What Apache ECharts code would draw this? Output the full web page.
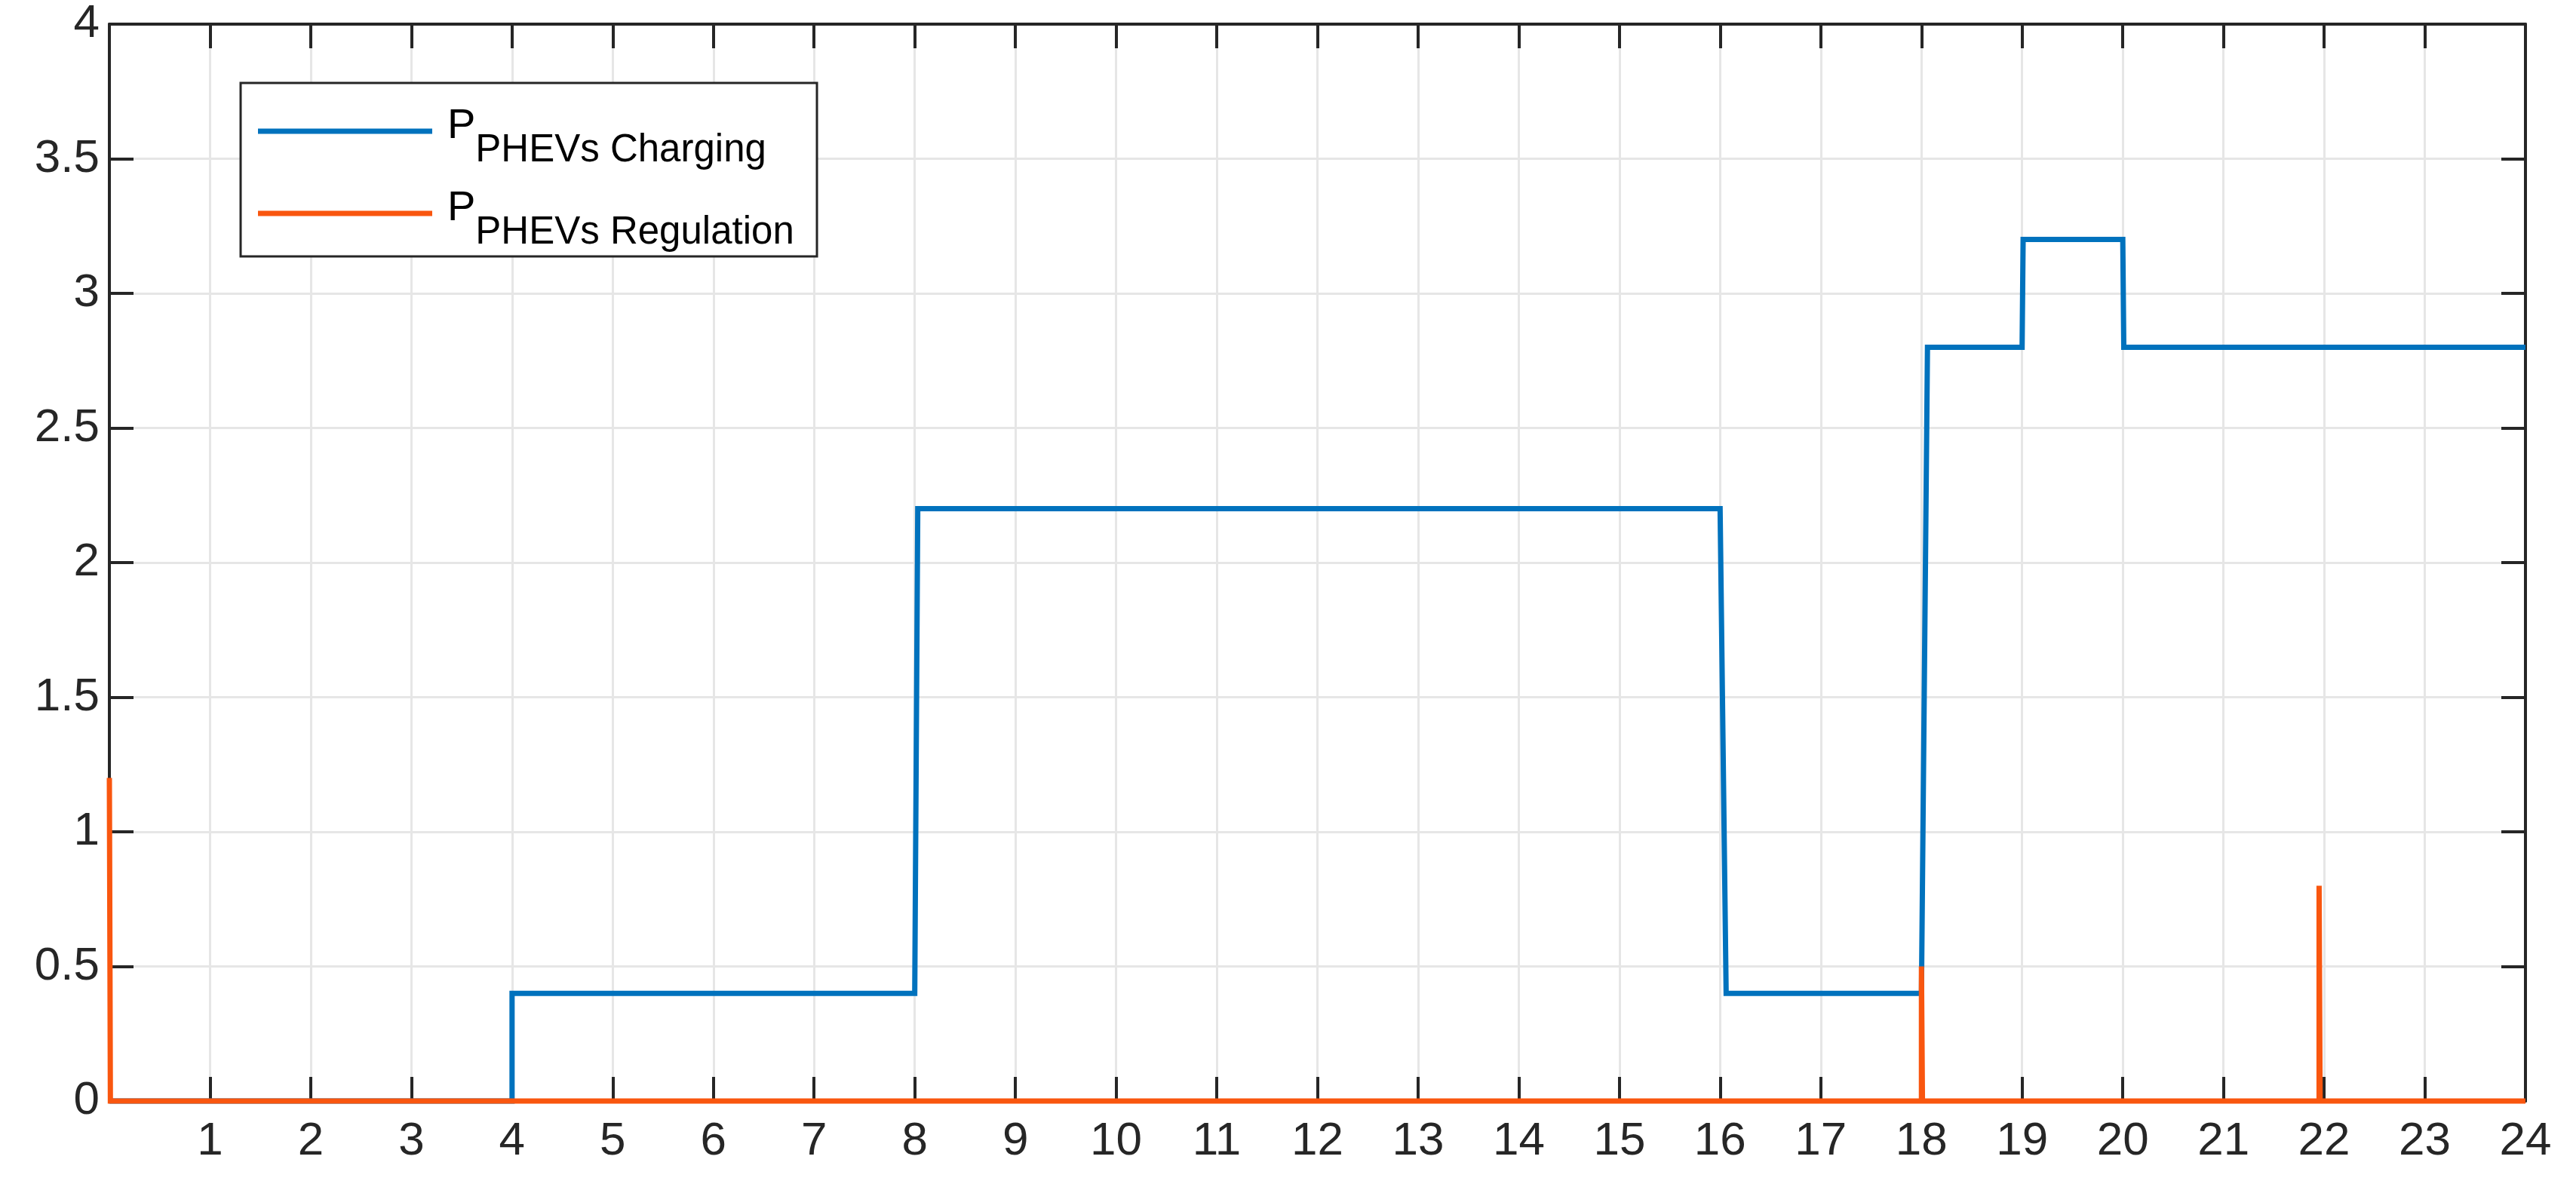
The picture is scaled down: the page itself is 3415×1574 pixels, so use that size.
<!DOCTYPE html>
<html>
<head>
<meta charset="utf-8">
<script src="https://cdn.jsdelivr.net/npm/echarts@6/dist/echarts.min.js"></script>
<style>
  html, body { margin: 0; padding: 0; background: #fff; }
  #chart { width: 3415px; height: 1574px; }
</style>
</head>
<body>
<div id="chart"></div>
<script>
// charging power of the PHEV fleet (hour, value)
const chargingHours = [0, 4, 4, 8, 8.03, 16, 16.06, 18, 18.06, 19, 19.01, 20, 20.01, 24];
const chargingPower = [0, 0, 0.4, 0.4, 2.2, 2.2, 0.4, 0.4, 2.8, 2.8, 3.2, 3.2, 2.8, 2.8];

// regulation power (spikes)
const regulationHours = [0, 0.01, 18, 18, 18.01, 21.95, 21.95, 21.96, 24];
const regulationPower = [1.2, 0, 0, 0.5, 0, 0, 0.8, 0, 0];

const seriesNames = ["P PHEVs Charging", "P PHEVs Regulation"];

const AXIS = "#262626";
const FONT = "Liberation Sans";
const BLUE = "#0072BD";
const ORANGE = "#F9560F";

const toPairs = (xs, ys) => xs.map((x, i) => [x, ys[i]]);

const chart = echarts.init(document.getElementById("chart"));

const tickStyle = { show: true, inside: true, length: 32, lineStyle: { color: AXIS, width: 4 } };
const lineStyle = { show: true, onZero: false, lineStyle: { color: AXIS, width: 4 } };

chart.setOption({
  animation: false,
  backgroundColor: "#fff",
  grid: { left: 145, right: 67, top: 32, bottom: 114 },
  legend: {
    left: 319,
    top: 110,
    orient: "vertical",
    selectedMode: false,
    backgroundColor: "#fff",
    borderColor: AXIS,
    borderWidth: 3,
    padding: [27, 30, 6, 23],
    itemGap: 21,
    itemWidth: 231,
    itemHeight: 7,
    icon: "rect",
    data: seriesNames,
    // P with a subscript, the h token only sets the line height
    formatter: name => "{p|P}{s|" + name.slice(2) + "}{h| }",
    textStyle: {
      fontFamily: FONT,
      color: "#000",
      padding: [0, 0, 0, 15],
      rich: {
        p: { fontFamily: FONT, fontSize: 56, verticalAlign: "top", padding: [3, 0, 0, 0], color: "#000" },
        s: { fontFamily: FONT, fontSize: 51, lineHeight: 10, verticalAlign: "top", padding: [37, 0, 0, 0], color: "#000" },
        h: { fontSize: 1, lineHeight: 74 }
      }
    }
  },
  xAxis: [
    {
      type: "value", min: 0, max: 24, interval: 1, position: "bottom",
      axisLine: lineStyle,
      axisTick: tickStyle,
      splitLine: { show: true, lineStyle: { color: "#e6e6e6", width: 3 } },
      axisLabel: {
        fontFamily: FONT, fontSize: 62, color: AXIS, margin: 23,
        formatter: v => (v === 0 ? "" : String(v))
      }
    },
    {
      type: "value", min: 0, max: 24, interval: 1, position: "top",
      axisLine: lineStyle, axisTick: tickStyle,
      splitLine: { show: false }, axisLabel: { show: false }
    }
  ],
  yAxis: [
    {
      type: "value", min: 0, max: 4, interval: 0.5, position: "left",
      axisLine: lineStyle,
      axisTick: tickStyle,
      splitLine: { show: true, lineStyle: { color: "#e6e6e6", width: 3 } },
      axisLabel: { fontFamily: FONT, fontSize: 62, color: AXIS, margin: 13 }
    },
    {
      type: "value", min: 0, max: 4, interval: 0.5, position: "right",
      axisLine: lineStyle, axisTick: tickStyle,
      splitLine: { show: false }, axisLabel: { show: false }
    }
  ],
  series: [
    {
      name: seriesNames[0],
      type: "line",
      data: toPairs(chargingHours, chargingPower),
      symbol: "none",
      clip: false,
      color: BLUE,
      lineStyle: { width: 7, color: BLUE, join: "miter" }
    },
    {
      name: seriesNames[1],
      type: "line",
      data: toPairs(regulationHours, regulationPower),
      symbol: "none",
      clip: false,
      color: ORANGE,
      lineStyle: { width: 7, color: ORANGE, join: "miter" }
    }
  ]
});
</script>
</body>
</html>
